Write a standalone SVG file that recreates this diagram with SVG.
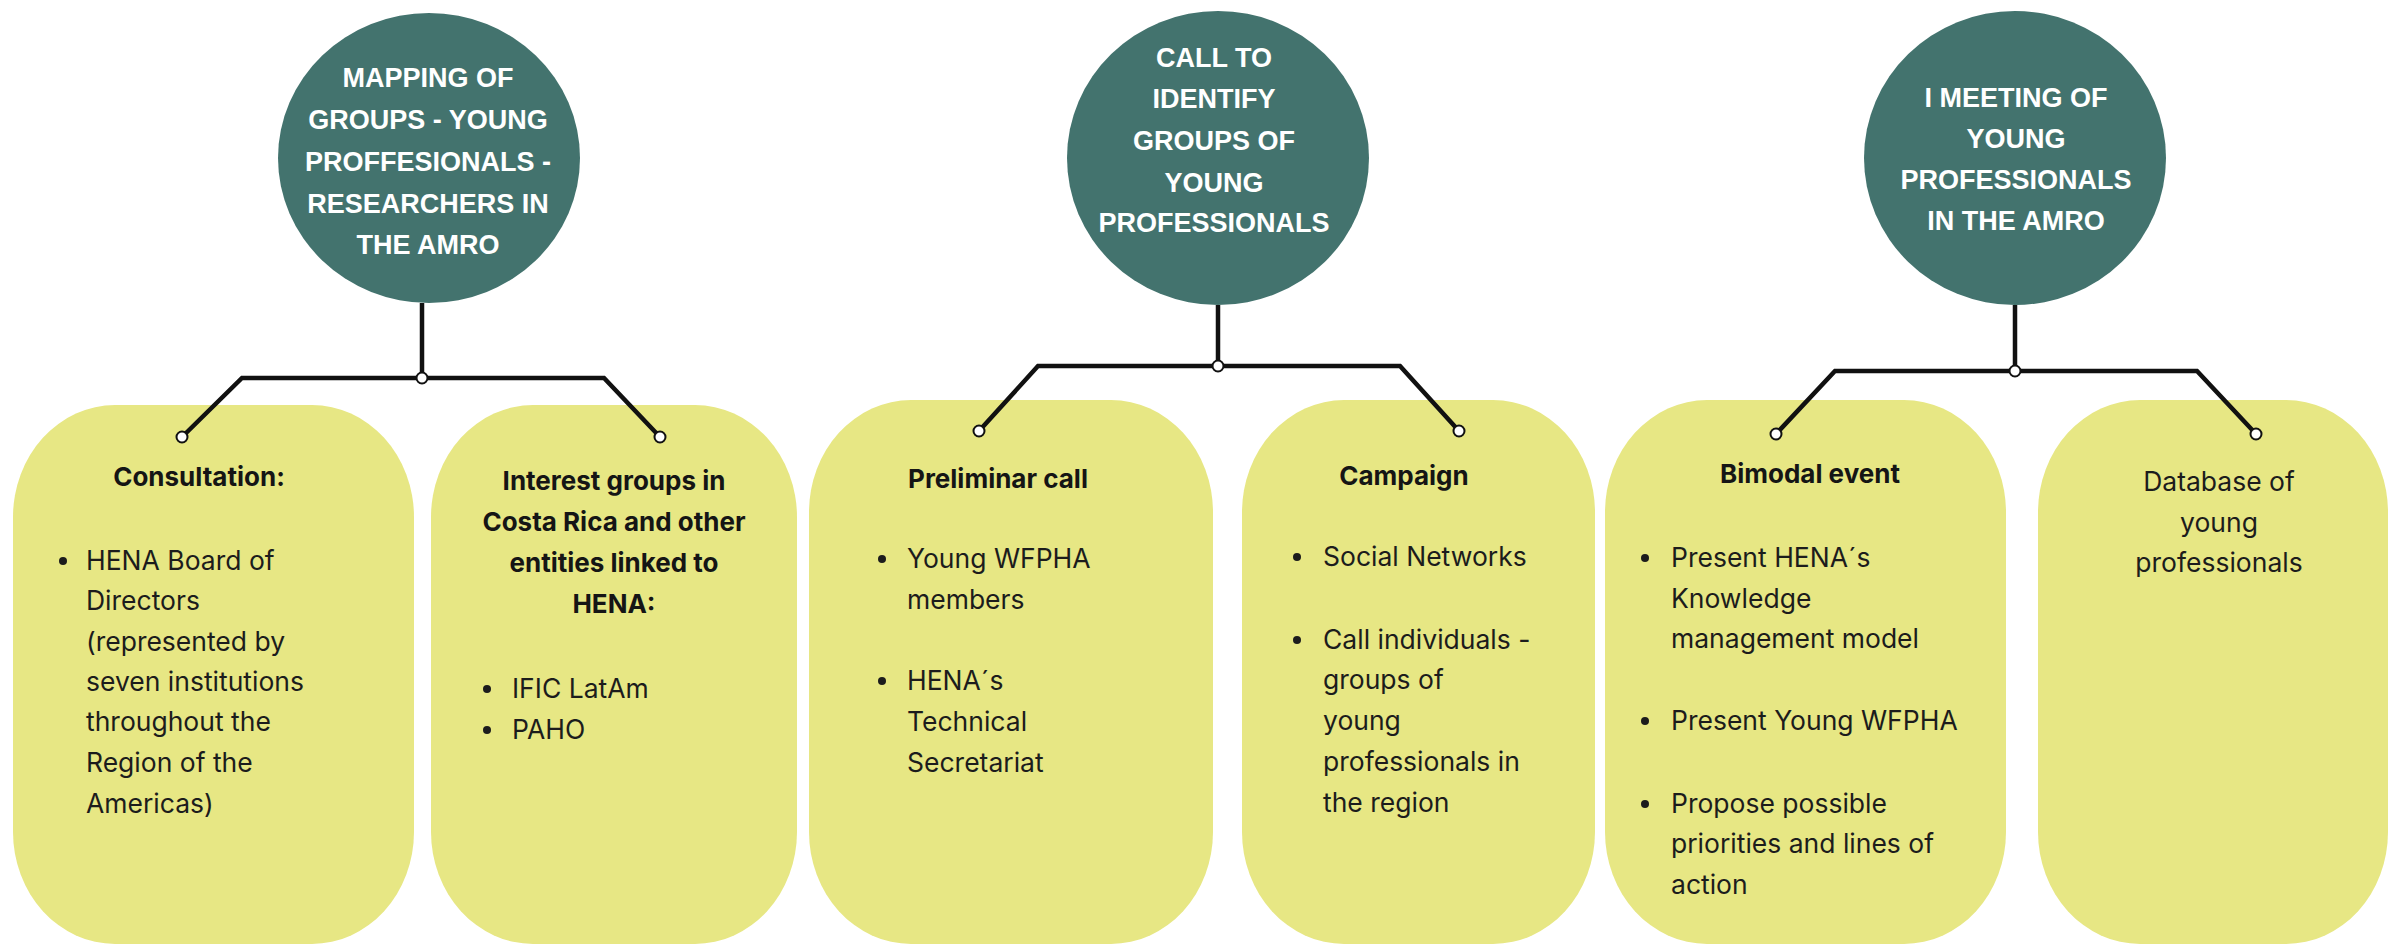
<svg xmlns="http://www.w3.org/2000/svg" width="2397" height="944" viewBox="0 0 2397 944">
<style>
.bg{fill:#ffffff}
.hub{fill:#43736e}
.pill{fill:#e7e784}
.ht{font-family:"Liberation Sans",Arial,sans-serif;font-weight:700;font-size:27px;fill:#ffffff;text-anchor:middle}
.hd{font-family:Inter,"Liberation Sans",sans-serif;font-weight:700;font-size:26px;fill:#151515;text-anchor:middle}
.bd{font-family:Inter,"Liberation Sans",sans-serif;font-weight:400;font-size:26.5px;fill:#1c1c1c}
.bc{font-family:Inter,"Liberation Sans",sans-serif;font-weight:400;font-size:26.5px;fill:#1c1c1c;text-anchor:middle}
.dot{fill:#1c1c1c}
.ln{fill:none;stroke:#111111;stroke-width:4.5;stroke-linejoin:miter}
.end{fill:#ffffff;stroke:#111111;stroke-width:2}
</style>
<rect class="bg" x="0" y="0" width="2397" height="944"/>

<g id="hub1">
<ellipse class="hub" cx="429" cy="158" rx="151" ry="145"/>
<text class="ht" x="428" y="87">MAPPING OF</text>
<text class="ht" x="428" y="129">GROUPS - YOUNG</text>
<text class="ht" x="428" y="171">PROFFESIONALS -</text>
<text class="ht" x="428" y="213">RESEARCHERS IN</text>
<text class="ht" x="428" y="254">THE AMRO</text>
</g>

<g id="hub2">
<ellipse class="hub" cx="1218" cy="158" rx="151" ry="147"/>
<text class="ht" x="1214" y="67">CALL TO</text>
<text class="ht" x="1214" y="108">IDENTIFY</text>
<text class="ht" x="1214" y="150">GROUPS OF</text>
<text class="ht" x="1214" y="192">YOUNG</text>
<text class="ht" x="1214" y="232">PROFESSIONALS</text>
</g>

<g id="hub3">
<ellipse class="hub" cx="2015" cy="158" rx="151" ry="147"/>
<text class="ht" x="2016" y="107">I MEETING OF</text>
<text class="ht" x="2016" y="148">YOUNG</text>
<text class="ht" x="2016" y="189">PROFESSIONALS</text>
<text class="ht" x="2016" y="230">IN THE AMRO</text>
</g>

<g id="box-consultation">
<rect class="pill" x="13" y="405" width="401" height="539" rx="102" ry="112"/>
<text class="hd" x="199" y="486">Consultation:</text>
<circle class="dot" cx="63" cy="561" r="4"/>
<text class="bd" x="86" y="570">HENA Board of</text>
<text class="bd" x="86" y="610">Directors</text>
<text class="bd" x="86" y="651">(represented by</text>
<text class="bd" x="86" y="691">seven institutions</text>
<text class="bd" x="86" y="731">throughout the</text>
<text class="bd" x="86" y="772">Region of the</text>
<text class="bd" x="86" y="813">Americas)</text>
</g>

<g id="box-interest">
<rect class="pill" x="431" y="405" width="366" height="539" rx="102" ry="112"/>
<text class="hd" x="614" y="490">Interest groups in</text>
<text class="hd" x="614" y="531">Costa Rica and other</text>
<text class="hd" x="614" y="572">entities linked to</text>
<text class="hd" x="614" y="613">HENA:</text>
<circle class="dot" cx="487" cy="689" r="4"/>
<text class="bd" x="512" y="698">IFIC LatAm</text>
<circle class="dot" cx="487" cy="730" r="4"/>
<text class="bd" x="512" y="739">PAHO</text>
</g>

<g id="box-preliminar">
<rect class="pill" x="809" y="400" width="404" height="544" rx="102" ry="112"/>
<text class="hd" x="998" y="488">Preliminar call</text>
<circle class="dot" cx="882" cy="559" r="4"/>
<text class="bd" x="907" y="568">Young WFPHA</text>
<text class="bd" x="907" y="609">members</text>
<circle class="dot" cx="882" cy="681" r="4"/>
<text class="bd" x="907" y="690">HENA´s</text>
<text class="bd" x="907" y="731">Technical</text>
<text class="bd" x="907" y="772">Secretariat</text>
</g>

<g id="box-campaign">
<rect class="pill" x="1242" y="400" width="353" height="544" rx="102" ry="112"/>
<text class="hd" x="1404" y="485">Campaign</text>
<circle class="dot" cx="1297" cy="557" r="4"/>
<text class="bd" x="1323" y="566">Social Networks</text>
<circle class="dot" cx="1297" cy="640" r="4"/>
<text class="bd" x="1323" y="649">Call individuals -</text>
<text class="bd" x="1323" y="689">groups of</text>
<text class="bd" x="1323" y="730">young</text>
<text class="bd" x="1323" y="771">professionals in</text>
<text class="bd" x="1323" y="812">the region</text>
</g>

<g id="box-bimodal">
<rect class="pill" x="1605" y="400" width="401" height="544" rx="102" ry="112"/>
<text class="hd" x="1810" y="483">Bimodal event</text>
<circle class="dot" cx="1645" cy="558" r="4"/>
<text class="bd" x="1671" y="567">Present HENA´s</text>
<text class="bd" x="1671" y="608">Knowledge</text>
<text class="bd" x="1671" y="648">management model</text>
<circle class="dot" cx="1645" cy="721" r="4"/>
<text class="bd" x="1671" y="730">Present Young WFPHA</text>
<circle class="dot" cx="1645" cy="804" r="4"/>
<text class="bd" x="1671" y="813">Propose possible</text>
<text class="bd" x="1671" y="853">priorities and lines of</text>
<text class="bd" x="1671" y="894">action</text>
</g>

<g id="box-database">
<rect class="pill" x="2038" y="400" width="350" height="544" rx="102" ry="112"/>
<text class="bc" x="2219" y="491">Database of</text>
<text class="bc" x="2219" y="532">young</text>
<text class="bc" x="2219" y="572">professionals</text>
</g>

<g id="connectors">
<path class="ln" d="M422 303 V378 M182 437 L242 378 H604 L660 437"/>
<circle class="end" cx="422" cy="378" r="5.5"/>
<circle class="end" cx="182" cy="437" r="5.5"/>
<circle class="end" cx="660" cy="437" r="5.5"/>

<path class="ln" d="M1218 305 V366 M979 431 L1038 366 H1400 L1459 431"/>
<circle class="end" cx="1218" cy="366" r="5.5"/>
<circle class="end" cx="979" cy="431" r="5.5"/>
<circle class="end" cx="1459" cy="431" r="5.5"/>

<path class="ln" d="M2015 305 V371 M1776 434 L1835 371 H2197 L2256 434"/>
<circle class="end" cx="2015" cy="371" r="5.5"/>
<circle class="end" cx="1776" cy="434" r="5.5"/>
<circle class="end" cx="2256" cy="434" r="5.5"/>
</g>
</svg>
